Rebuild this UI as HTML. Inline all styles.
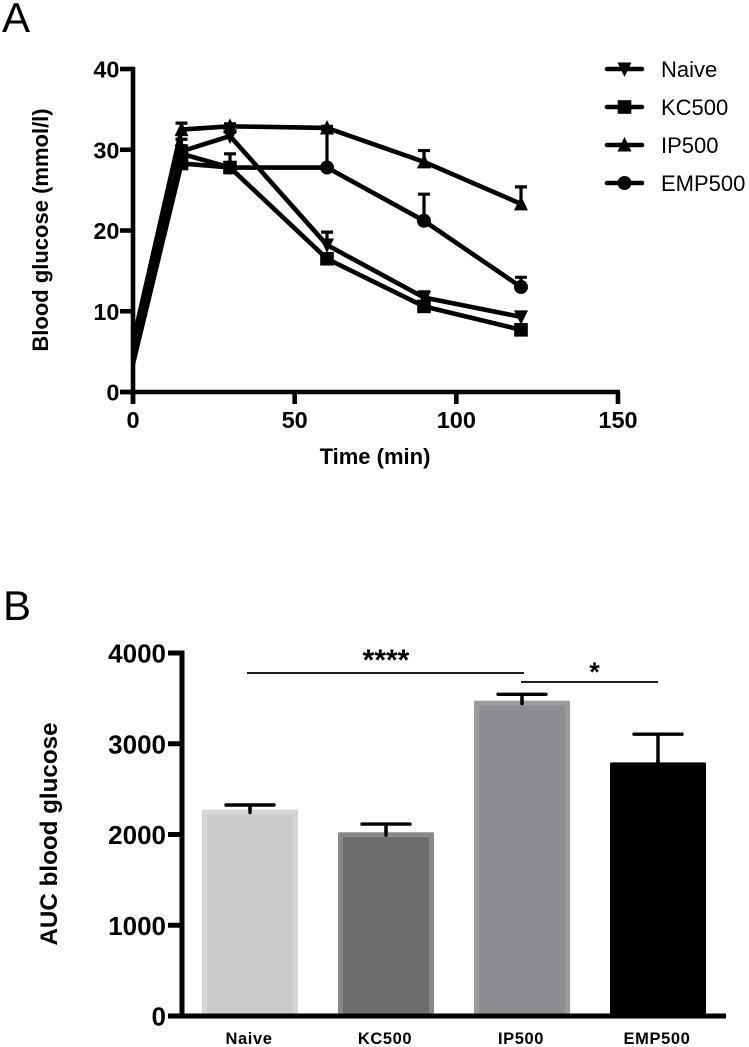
<!DOCTYPE html>
<html>
<head>
<meta charset="utf-8">
<style>
html,body{margin:0;padding:0;background:#fff;}
svg{display:block;font-family:"Liberation Sans",Arial,sans-serif;}
</style>
</head>
<body>
<svg id="fig" width="749" height="1047" viewBox="0 0 749 1047" xmlns="http://www.w3.org/2000/svg">
  <text x="2" y="32" font-size="42">A</text>
  <text x="3" y="620" font-size="42">B</text>
  <text transform="translate(48,230) rotate(-90)" text-anchor="middle" font-size="22" font-weight="bold">Blood glucose (mmol/l)</text>
  <text x="375" y="464" text-anchor="middle" font-size="22" font-weight="bold">Time (min)</text>
  <text transform="translate(57,834) rotate(-90)" text-anchor="middle" font-size="24.2" font-weight="bold">AUC blood glucose</text>
  <g id="chartA"></g>
  <g id="chartB"></g>
</svg>
<script>
var times = [0, 15, 30, 60, 90, 120];
var naiveValues = [4.5, 29.8, 31.7, 18.2, 11.7, 9.3];
var kc500Values = [3.5, 28.3, 27.8, 16.5, 10.6, 7.7];
var ip500Values = [6.2, 32.5, 32.9, 32.7, 28.5, 23.3];
var emp500Values = [5, 29.5, 27.8, 27.8, 21.2, 13];
var naiveUpper = [4.5, 30.5, 32.2, 19.8, 12.4, 9.3];
var kc500Upper = [3.5, 28.9, 28.4, 16.9, 11, 7.7];
var ip500Upper = [6.2, 33.3, 33.2, 32.9, 29.9, 25.4];
var emp500Upper = [5, 31.3, 29.5, 32.5, 24.5, 14.2];
var xTicksA = [0, 50, 100, 150];
var yTicksA = [0, 10, 20, 30, 40];
var seriesNames = ['Naive', 'KC500', 'IP500', 'EMP500'];
var seriesMarkers = ['down', 'square', 'up', 'circle'];
var categories = ['Naive', 'KC500', 'IP500', 'EMP500'];
var barValues = [2275, 2025, 3475, 2795];
var barUpper = [2325, 2115, 3545, 3105];
var barFills = ['#cbcbcb', '#6d6d6d', '#8d8d91', '#000000'];
var barEdges = ['#d6d6d6', '#888888', '#9b9b9f', '#000000'];
var yTicksB = [0, 1000, 2000, 3000, 4000];

var NS = 'http://www.w3.org/2000/svg';
function mk(parent, tag, attrs, txt) {
  var e = document.createElementNS(NS, tag);
  for (var k in attrs) e.setAttribute(k, attrs[k]);
  if (txt !== undefined) e.textContent = txt;
  parent.appendChild(e);
  return e;
}
function xA(v) { return 133 + v * (618 - 133) / 150; }
function yA(v) { return 392 - v * (392 - 69) / 40; }
function yB(v) { return 1016 - v * (1016 - 653) / 4000; }
function xB(i) { return 250 + i * 136; }

function marker(parent, type, x, y) {
  var m;
  if (type === 'square') {
    m = mk(parent, 'rect', {x: x - 6.8, y: y - 6.8, width: 13.6, height: 13.6, fill: '#000'});
  } else if (type === 'circle') {
    m = mk(parent, 'circle', {cx: x, cy: y, r: 7, fill: '#000'});
  } else if (type === 'up') {
    m = mk(parent, 'polygon', {points: (x - 7) + ',' + (y + 6.5) + ' ' + (x + 7) + ',' + (y + 6.5) + ' ' + x + ',' + (y - 8), fill: '#000'});
  } else {
    m = mk(parent, 'polygon', {points: (x - 7) + ',' + (y - 6.5) + ' ' + (x + 7) + ',' + (y - 6.5) + ' ' + x + ',' + (y + 8), fill: '#000'});
  }
  return m;
}

var A = document.getElementById('chartA');
var seriesValues = [naiveValues, kc500Values, ip500Values, emp500Values];
var seriesUpper = [naiveUpper, kc500Upper, ip500Upper, emp500Upper];

seriesValues.forEach(function (vals, s) {
  var g = mk(A, 'g', {});
  
  
  vals.forEach(function (v, i) {
    var up = seriesUpper[s][i];
    if (up <= v) return;
    var eb = mk(g, 'path', {
      d: 'M' + xA(times[i]) + ' ' + yA(v) + 'V' + yA(up) + 'M' + (xA(times[i]) - 6) + ' ' + yA(up) + 'H' + (xA(times[i]) + 6),
      stroke: '#000', 'stroke-width': 3.2, fill: 'none'
    });
    
    
  });
  var pts = vals.map(function (v, i) { return xA(times[i]) + ',' + yA(v); }).join(' ');
  var line = mk(g, 'polyline', {points: pts, fill: 'none', stroke: '#000', 'stroke-width': 4.6, 'stroke-linejoin': 'round'});
  
  
  vals.forEach(function (v, i) {
    if (i === 0) return;
    var p = marker(g, seriesMarkers[s], xA(times[i]), yA(v));
    
    
  });
});

var axA = mk(A, 'g', {});


var yLineA = mk(axA, 'line', {x1: xA(0), x2: xA(0), y1: yA(40) - 2.2, y2: yA(0) + 12, stroke: '#000', 'stroke-width': 4.6});


var xLineA = mk(axA, 'line', {x1: xA(0) - 13, x2: xA(150) + 2, y1: yA(0), y2: yA(0), stroke: '#000', 'stroke-width': 4.6});


yTicksA.forEach(function (t) {
  var tk = mk(axA, 'line', {x1: xA(0) - 13, x2: xA(0), y1: yA(t), y2: yA(t), stroke: '#000', 'stroke-width': 4.6});
  
  
  var lb = mk(axA, 'text', {x: xA(0) - 13.5, y: yA(t) + 8.5, 'text-anchor': 'end', 'font-size': 23.5, 'font-weight': 'bold'}, String(t));
  
  
});
xTicksA.forEach(function (t) {
  var tk = mk(axA, 'line', {x1: xA(t), x2: xA(t), y1: yA(0), y2: yA(0) + 12, stroke: '#000', 'stroke-width': 4.6});
  
  
  var lb = mk(axA, 'text', {x: xA(t), y: 428, 'text-anchor': 'middle', 'font-size': 23.5, 'font-weight': 'bold'}, String(t));
  
  
});

seriesNames.forEach(function (n, s) {
  var ly = 69 + s * 38;
  var g = mk(A, 'g', {});
  
  
  var l = mk(g, 'line', {x1: 607, x2: 642, y1: ly, y2: ly, stroke: '#000', 'stroke-width': 4.6, 'stroke-linecap': 'round'});
  
  
  var m = marker(g, seriesMarkers[s], 624.5, ly);
  
  
  var t = mk(g, 'text', {x: 661, y: ly + 8, 'font-size': 22}, n);
  
  
});

var B = document.getElementById('chartB');
categories.forEach(function (c, i) {
  var g = mk(B, 'g', {});
  
  
  var top = yB(barValues[i]);
  var cx = xB(i);
  var eb = mk(g, 'path', {
    d: 'M' + (cx - 24) + ' ' + yB(barUpper[i]) + 'H' + (cx + 24) + 'M' + cx + ' ' + yB(barUpper[i]) + 'V' + (top + 4),
    stroke: '#000', 'stroke-width': 3.4, fill: 'none', 'stroke-linecap': 'round'
  });
  
  
  var r = mk(g, 'rect', {x: cx - 48, y: top, width: 96, height: 1016 - top, fill: barEdges[i], rx: 1.5});
  
  
  var inner = mk(g, 'rect', {x: cx - 43, y: top + 5, width: 86, height: 1016 - top - 5, fill: barFills[i]});
  
  
  var stub = mk(g, 'line', {x1: cx, x2: cx, y1: top - 2, y2: top + 3, stroke: '#000', 'stroke-width': 3.4, 'stroke-linecap': 'round'});
  
  
  var lb = mk(g, 'text', {x: cx - 1, y: 1044, 'text-anchor': 'middle', 'font-size': 16.5, 'font-weight': 'bold', 'letter-spacing': 0.6}, c);
  
  
});

var axB = mk(B, 'g', {});


var yLineB = mk(axB, 'line', {x1: 182, x2: 182, y1: yB(4000) - 2.5, y2: yB(0) + 2.5, stroke: '#000', 'stroke-width': 5});


var xLineB = mk(axB, 'line', {x1: 168, x2: 726, y1: yB(0), y2: yB(0), stroke: '#000', 'stroke-width': 5});


yTicksB.forEach(function (t) {
  var tk = mk(axB, 'line', {x1: 168, x2: 182, y1: yB(t), y2: yB(t), stroke: '#000', 'stroke-width': 5});
  
  
  var lb = mk(axB, 'text', {x: 166, y: yB(t) + 9.5, 'text-anchor': 'end', 'font-size': 26, 'font-weight': 'bold'}, String(t));
  
  
});

var sig1 = mk(B, 'line', {x1: xB(0) - 3, x2: xB(2) + 2, y1: 673, y2: 673, stroke: '#000', 'stroke-width': 1.8});


var sig2 = mk(B, 'line', {x1: xB(2) - 1, x2: xB(3) + 0, y1: 682, y2: 682, stroke: '#000', 'stroke-width': 1.8});


var st1 = mk(B, 'text', {x: 386, y: 670, 'text-anchor': 'middle', 'font-size': 30, 'font-weight': 'bold'}, '****');


var st2 = mk(B, 'text', {x: 594.5, y: 681, 'text-anchor': 'middle', 'font-size': 27, 'font-weight': 'bold'}, '*');


</script>
</body>
</html>
